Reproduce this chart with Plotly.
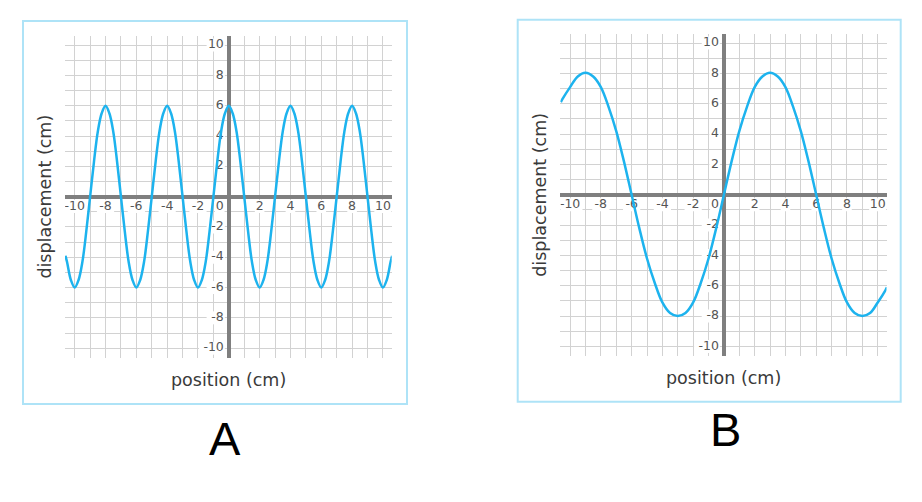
import plotly.graph_objects as go
from plotly.subplots import make_subplots

# curve A: displacement every 0.25 cm
pos_a = [-10.6, -10.5, -10.25,
         -10, -9.75, -9.5, -9.25, -9, -8.75, -8.5, -8.25, -8, -7.75, -7.5, -7.25, -7, -6.75, -6.5, -6.25,
         -6, -5.75, -5.5, -5.25, -5, -4.75, -4.5, -4.25, -4, -3.75, -3.5, -3.25, -3, -2.75, -2.5, -2.25,
         -2, -1.75, -1.5, -1.25, -1, -0.75, -0.5, -0.25, 0, 0.25, 0.5, 0.75, 1, 1.25, 1.5, 1.75,
         2, 2.25, 2.5, 2.75, 3, 3.25, 3.5, 3.75, 4, 4.25, 4.5, 4.75, 5, 5.25, 5.5, 5.75,
         6, 6.25, 6.5, 6.75, 7, 7.25, 7.5, 7.75, 8, 8.25, 8.5, 8.75, 9, 9.25, 9.5, 9.75,
         10, 10.25, 10.5, 10.6]
disp_a = [-3.9, -4.3, -5.5,
          -6, -5.5, -4.3, -2.3, 0, 2.3, 4.3, 5.5, 6, 5.5, 4.3, 2.3, 0, -2.3, -4.3, -5.5,
          -6, -5.5, -4.3, -2.3, 0, 2.3, 4.3, 5.5, 6, 5.5, 4.3, 2.3, 0, -2.3, -4.3, -5.5,
          -6, -5.5, -4.3, -2.3, 0, 2.3, 4.3, 5.5, 6, 5.5, 4.3, 2.3, 0, -2.3, -4.3, -5.5,
          -6, -5.5, -4.3, -2.3, 0, 2.3, 4.3, 5.5, 6, 5.5, 4.3, 2.3, 0, -2.3, -4.3, -5.5,
          -6, -5.5, -4.3, -2.3, 0, 2.3, 4.3, 5.5, 6, 5.5, 4.3, 2.3, 0, -2.3, -4.3, -5.5,
          -6, -5.5, -4.3, -3.9]

# curve B: displacement every 0.5 cm
pos_b = [-10.6, -10.5, -10, -9.5, -9, -8.5, -8, -7.5, -7, -6.5, -6, -5.5, -5, -4.5, -4,
         -3.5, -3, -2.5, -2, -1.5, -1, -0.5, 0, 0.5, 1, 1.5, 2, 2.5, 3, 3.5, 4,
         4.5, 5, 5.5, 6, 6.5, 7, 7.5, 8, 8.5, 9, 9.5, 10, 10.5, 10.6]
disp_b = [6.1, 6.3, 7.1, 7.8, 8.05, 7.8, 7.1, 5.8, 4.2, 2.2, 0, -2.2, -4.2, -5.8, -7.1,
          -7.8, -8.0, -7.8, -7.1, -5.8, -4.2, -2.2, 0, 2.2, 4.2, 5.8, 7.1, 7.8, 8.05, 7.8, 7.1,
          5.8, 4.2, 2.2, 0, -2.2, -4.2, -5.8, -7.1, -7.8, -8.0, -7.8, -7.1, -6.3, -6.1]

grid_vals = list(range(-10, 11))
tick_vals = [-10, -8, -6, -4, -2, 2, 4, 6, 8, 10]
tick_text = ['-10', '-8', '-6', '-4', '-2', '2', '4', '6', '8', '10']
x_title = 'position (cm)'
y_title = 'displacement (cm)'
panel_names = ['A', 'B']

OFF = 8  # the page body has an 8 px margin
W, H = 922 - OFF, 502 - OFF
CURVE = '#1db3ee'
GRID = '#d2d2d2'
AXIS = '#7f7f7f'
LABEL = '#555555'
FONT = 'DejaVu Sans'


def px(x):
    return (x - OFF) / W


def py(y):
    return 1 - (y - OFF) / H


# plot areas in page pixels: (left, right, top, bottom)
areas = [(65.0, 391.7, 36.0, 358.0), (560.4, 886.5, 34.0, 356.3)]
xr = [-10.63, 10.57]
yr = [-10.65, 10.6]

fig = make_subplots(rows=1, cols=2)
ux_l = []
uy_l = []
for i, (l, r, t, b) in enumerate(areas):
    n = '' if i == 0 else str(i + 1)
    fig.layout['xaxis' + n].update(domain=[px(l), px(r)])
    fig.layout['yaxis' + n].update(domain=[py(b), py(t)])
    ux_l.append((r - l) / (xr[1] - xr[0]))
    uy_l.append((b - t) / (yr[1] - yr[0]))

axis_style = dict(tickmode='array', tickvals=grid_vals, showgrid=True, gridcolor=GRID,
                  gridwidth=1, zeroline=True, zerolinecolor=AXIS, zerolinewidth=4,
                  showticklabels=False, ticks='', showline=False, fixedrange=True,
                  minor=dict(showgrid=False, ticks=''))
fig.update_xaxes(range=xr, **axis_style)
fig.update_yaxes(range=yr, **axis_style)

shapes = []
for col in (1, 2):
    k = col - 1
    xref = 'x' if col == 1 else 'x2'
    yref = 'y' if col == 1 else 'y2'
    ux, uy = ux_l[k], uy_l[k]
    xoff = -10.0 / uy   # x labels sit 10 px under the axis
    yoff = -5.0 / ux    # y labels end 5 px left of the axis
    lab_x = tick_vals + [-9.0 / ux]
    lab_t = tick_text + ['0']
    # white backings behind the tick labels
    for v, t in zip(lab_x, lab_t):
        w = (len(t) * 7.6 + 2) / ux / 2
        shapes.append(dict(type='rect', xref=xref, yref=yref, layer='between',
                           x0=v - w, x1=v + w, y0=xoff - 6.5 / uy, y1=xoff + 6.5 / uy,
                           fillcolor='white', line_width=0))
    for v, t in zip(tick_vals, tick_text):
        w = (len(t) * 7.6 + 2) / ux
        shapes.append(dict(type='rect', xref=xref, yref=yref, layer='between',
                           x0=yoff - w, x1=yoff + 1 / ux, y0=v - 6.5 / uy, y1=v + 6.5 / uy,
                           fillcolor='white', line_width=0))
    fig.add_trace(go.Scatter(x=lab_x, y=[xoff] * len(lab_x), text=lab_t, mode='text',
                             textposition='middle center', hoverinfo='skip',
                             textfont=dict(family=FONT, size=12.5, color=LABEL)),
                  row=1, col=col)
    fig.add_trace(go.Scatter(x=[yoff] * len(tick_vals), y=tick_vals, text=tick_text,
                             mode='text', textposition='middle left', hoverinfo='skip',
                             textfont=dict(family=FONT, size=12.5, color=LABEL)),
                  row=1, col=col)

fig.add_trace(go.Scatter(x=pos_a, y=disp_a, mode='lines', line_shape='spline',
                         line=dict(color=CURVE, width=2.5)), row=1, col=1)
fig.add_trace(go.Scatter(x=pos_b, y=disp_b, mode='lines', line_shape='spline',
                         line=dict(color=CURVE, width=2.5)), row=1, col=2)

# light blue frames round each panel
for x0, x1, y0, y1 in [(23, 407, 404, 21), (517.7, 900.7, 401.7, 19.7)]:
    shapes.append(dict(type='rect', xref='paper', yref='paper',
                       x0=px(x0), x1=px(x1), y0=py(y0), y1=py(y1),
                       line=dict(color='#aee3f7', width=2), fillcolor='rgba(0,0,0,0)'))

annots = []
for k, (xt_y, yt_x, let_x, let_y) in enumerate([(380, 45, 224.5, 438), (378, 540, 725, 429)]):
    xref = 'x' if k == 0 else 'x2'
    yref = 'y' if k == 0 else 'y2'
    annots.append(dict(text=x_title, xref=xref, x=0, yref='paper', y=py(xt_y),
                       xanchor='center', yanchor='middle', showarrow=False,
                       font=dict(family=FONT, size=17.5, color='#3a3a3a')))
    annots.append(dict(text=y_title, xref='paper', x=px(yt_x), yref=yref, y=0,
                       xanchor='center', yanchor='middle', textangle=-90, showarrow=False,
                       font=dict(family=FONT, size=17.5, color='#3a3a3a')))
    annots.append(dict(text=panel_names[k], xref='paper', x=px(let_x), yref='paper',
                       y=py(let_y), xanchor='center', yanchor='middle', showarrow=False,
                       font=dict(family='Liberation Sans', size=47, color='black')))

fig.update_layout(width=W, height=H, margin=dict(l=0, r=0, t=0, b=0),
                  paper_bgcolor='white', plot_bgcolor='white', showlegend=False,
                  shapes=shapes, annotations=annots)
fig.write_html('out.html')
